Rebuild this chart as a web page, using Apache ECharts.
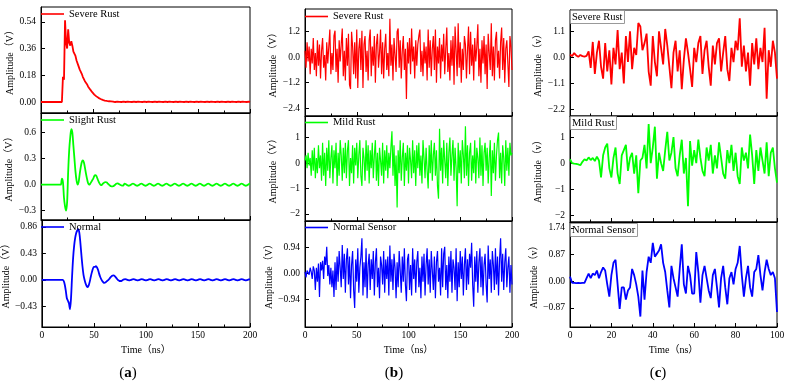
<!DOCTYPE html>
<html>
<head>
<meta charset="utf-8">
<script src="https://cdn.jsdelivr.net/npm/echarts@6/dist/echarts.min.js"></script>
<style>html,body{margin:0;padding:0;background:#fff}#main{width:789px;height:387px}</style>
</head>
<body>
<div id="main"></div>
<script>
// sample step (ns) of each column
var stepA = 1, stepB = 1, stepC = 1;

// (a) pulse responses, t = 0..200 ns
var severeA = [0,0,0,0,0,0,0,0,0,0, 0,0,0,0,0,0,0,0,0,0,
  0,0.17,0.15,0.55,0.40,0.36,0.49,0.40,0.38,0.41,
  0.38,0.34,0.33,0.31,0.28,0.27,0.24,0.22,0.21,0.19,
  0.17,0.16,0.14,0.13,0.12,0.105,0.095,0.085,0.075,0.066,
  0.058,0.05,0.044,0.038,0.033,0.028,0.024,0.02,0.017,0.014,
  0.012,0.01,0.008,0.007,0.006,0.005,0.004,0.004,0.003,0.003,
  0.002,0,0.001,0.002,0,0.001,0.002,0,0.001,0.002,
  0.002,0,0.001,0.002,0,0.001,0.002,0,0.001,0.002,
  0.002,0,0.001,0.002,0,0.001,0.002,0,0.001,0.002,
  0.002,0,0.001,0.002,0,0.001,0.002,0,0.001,0.002,
  0.002,0,0.001,0.002,0,0.001,0.002,0,0.001,0.002,
  0.002,0,0.001,0.002,0,0.001,0.002,0,0.001,0.002,
  0.002,0,0.001,0.002,0,0.001,0.002,0,0.001,0.002,
  0.002,0,0.001,0.002,0,0.001,0.002,0,0.001,0.002,
  0.002,0,0.001,0.002,0,0.001,0.002,0,0.001,0.002,
  0.002,0,0.001,0.002,0,0.001,0.002,0,0.001,0.002,
  0.002,0,0.001,0.002,0,0.001,0.002,0,0.001,0.002,
  0.002,0,0.001,0.002,0,0.001,0.002,0,0.001,0.002,
  0.002,0,0.001,0.002,0,0.001,0.002,0,0.001,0.002,
  0];
var slightA = [0,0,0,0,0,0,0,0,0,0, 0,0,0,0,0,0,0,0,0,0,
  0.07,0.03,-0.15,-0.25,-0.3,-0.2,0.15,0.4,0.55,0.64,
  0.6,0.45,0.3,0.15,0.05,0.0,0.03,0.12,0.2,0.26,
  0.28,0.26,0.2,0.13,0.07,0.02,0.0,0.01,0.03,0.05,
  0.07,0.1,0.11,0.1,0.07,0.04,0.015,0.0,-0.005,0.01,
  0.02,0.028,0.03,0.025,0.012,0.0,-0.01,-0.018,-0.02,-0.018,
  -0.01,0.0,0.01,0.015,0.012,0.005,-0.003,-0.008,-0.01,-0.006,
  0.012,0.008,0,-0.008,-0.012,-0.008,0,0.008, 0.012,0.008,0,-0.008,-0.012,-0.008,0,0.008,
  0.012,0.008,0,-0.008,-0.012,-0.008,0,0.008, 0.012,0.008,0,-0.008,-0.012,-0.008,0,0.008,
  0.012,0.008,0,-0.008,-0.012,-0.008,0,0.008, 0.012,0.008,0,-0.008,-0.012,-0.008,0,0.008,
  0.012,0.008,0,-0.008,-0.012,-0.008,0,0.008, 0.012,0.008,0,-0.008,-0.012,-0.008,0,0.008,
  0.012,0.008,0,-0.008,-0.012,-0.008,0,0.008, 0.012,0.008,0,-0.008,-0.012,-0.008,0,0.008,
  0.012,0.008,0,-0.008,-0.012,-0.008,0,0.008, 0.012,0.008,0,-0.008,-0.012,-0.008,0,0.008,
  0.012,0.008,0,-0.008,-0.012,-0.008,0,0.008, 0.012,0.008,0,-0.008,-0.012,-0.008,0,0.008,
  0.012,0.008,0,-0.008,-0.012,-0.008,0,0.008,
  0.012];
var normalA = [0,0,0,0,0,0,0,0,0,0, 0,0,0,0,0,0,0,0,0,0, 0,
  -0.02,-0.08,-0.18,-0.3,-0.34,-0.38,-0.48,-0.3,0.05,0.35,
  0.55,0.68,0.76,0.8,0.82,0.76,0.6,0.4,0.22,0.08,
  0.0,-0.06,-0.1,-0.12,-0.09,-0.03,0.05,0.12,0.18,0.21,
  0.21,0.22,0.2,0.16,0.1,0.05,0.01,-0.02,-0.04,-0.05,
  -0.045,-0.03,-0.015,0.0,0.02,0.04,0.06,0.068,0.07,0.06,
  0.04,0.02,0.0,-0.012,-0.02,-0.02,-0.012,
  0,0.006,0.01,0.006,0,-0.006,-0.01,-0.006, 0,0.006,0.01,0.006,0,-0.006,-0.01,-0.006,
  0,0.006,0.01,0.006,0,-0.006,-0.01,-0.006, 0,0.006,0.01,0.006,0,-0.006,-0.01,-0.006,
  0,0.006,0.01,0.006,0,-0.006,-0.01,-0.006, 0,0.006,0.01,0.006,0,-0.006,-0.01,-0.006,
  0,0.006,0.01,0.006,0,-0.006,-0.01,-0.006, 0,0.006,0.01,0.006,0,-0.006,-0.01,-0.006,
  0,0.006,0.01,0.006,0,-0.006,-0.01,-0.006, 0,0.006,0.01,0.006,0,-0.006,-0.01,-0.006,
  0,0.006,0.01,0.006,0,-0.006,-0.01,-0.006, 0,0.006,0.01,0.006,0,-0.006,-0.01,-0.006,
  0,0.006,0.01,0.006,0,-0.006,-0.01,-0.006, 0,0.006,0.01,0.006,0,-0.006,-0.01,-0.006,
  0,0.006,0.01,0.006,0,-0.006,-0.01,-0.006,
  0,0.006,0.01];

// (b) t = 0..200 ns
var severeB = [0.3,-0.5,0.7,-0.2,0.5,-0.8,0.4,-0.3,0.9,-0.6,
  0.2,-0.9,0.8,-0.4,0.6,-1.0,0.3,0.9,-0.5,0.1,
  -1.1,0.7,-0.3,0.5,1.3,-0.8,0.2,-0.6,1.0,1.25,
  -0.7,0.4,-1.2,0.8,-0.2,0.6,1.35,-0.9,0.3,-1.1,
  0.9,-0.4,1.1,-1.3,-1.5,1.2,0.5,-0.8,0.7,-1.0,
  1.3,-1.45,0.4,0.9,-0.6,1.25,-1.45,0.6,1.0,-0.7,
  0.3,-1.1,0.8,1.3,-0.9,0.5,-0.4,1.0,-1.2,0.6,
  1.1,-0.5,0.2,1.3,-0.8,0.7,-1.0,0.4,1.1,-0.6,
  0.2,-0.9,1.81,-0.4,0.6,-1.1,0.9,0.1,-0.7,1.2,
  1.35,-0.5,0.8,-1.0,0.3,1.0,-0.6,0.4,-1.97,0.7,
  -0.3,0.9,-0.8,1.35,-0.2,0.5,-1.0,0.8,-0.4,0.6,
  1.0,1.3,-0.7,0.3,-0.9,0.7,-0.3,0.5,-1.1,1.3,
  -0.5,0.8,-0.9,0.4,1.0,-0.6,1.3,-1.2,0.5,-0.3,
  0.9,-1.0,0.6,-0.2,1.1,-0.8,0.4,1.4,-0.7,0.2,
  -1.1,0.8,-0.4,1.0,-1.3,1.45,0.3,-0.9,1.6,-0.5,
  0.7,-1.2,0.4,-0.6,1.0,0.6,-1.0,0.3,1.45,-0.8,
  1.2,-0.4,0.6,-1.1,0.9,-0.2,0.5,1.55,-0.9,0.4,
  -1.2,0.8,-0.3,1.0,-0.8,0.6,-1.5,1.1,0.2,-0.6,
  1.6,-0.9,0.5,-1.1,0.8,1.2,-0.5,0.3,-1.0,0.7,
  1.4,-0.6,0.9,-1.2,0.4,0.8,-0.3,-1.4,1.0,0.5,
  -0.6];
var mildB = [0.1,0.3,-0.2,0.4,-0.1,0.2,-0.5,0.5,-0.3,0.6,
  -0.6,0.2,-0.4,0.7,-0.2,0.3,-0.7,0.8,-0.5,0.4,
  -0.9,0.6,-0.3,0.9,-0.6,0.2,0.7,-0.8,0.5,-0.2,
  0.8,-0.9,0.4,-0.5,0.9,0.3,-0.7,0.6,-0.4,0.8,
  -0.6,0.5,0.9,-0.9,0.2,-0.4,0.7,-0.8,0.6,-0.1,
  0.8,-0.6,0.3,0.9,-0.5,-0.9,0.6,0.2,-0.7,0.9,
  -0.3,0.7,-0.8,0.5,-0.2,0.8,-0.6,0.3,0.9,-0.7,
  0.4,-0.9,0.6,0.1,-0.5,0.8,-0.8,0.5,-0.3,0.7,
  -0.6,0.4,-0.2,0.6,1.25,-0.5,0.7,-0.9,0.3,-1.75,
  0.5,-0.4,0.9,-0.7,0.2,0.8,-0.9,0.4,-0.3,0.7,
  -0.8,0.6,0.1,-0.6,0.9,-0.4,0.5,-0.9,0.7,-0.2,
  0.8,-0.5,0.3,-0.8,0.9,0.2,-0.6,0.6,-0.3,-1.0,
  0.7,-0.4,0.9,-0.7,0.3,0.8,-0.5,0.5,-0.9,-1.4,
  1.35,-0.3,0.6,-0.8,0.9,0.1,-0.6,0.8,-0.9,0.4,
  1.0,-0.5,0.3,0.9,-0.7,0.6,-0.2,-1.7,0.8,-0.4,
  0.5,-0.8,0.9,0.3,-0.6,1.45,-0.5,0.7,-0.9,0.4,
  0.8,-0.7,0.3,-0.4,0.9,-0.8,0.6,0.2,-0.6,1.0,
  -0.5,0.7,-0.9,0.4,0.8,-0.3,0.6,-0.8,0.2,0.9,
  -1.3,0.5,-0.4,0.8,-0.7,0.3,0.9,1.2,-0.6,0.4,
  -0.8,0.7,0.2,-0.9,0.9,-0.3,0.6,-0.5,0.8,0.3,
  0.4];
var normalB = [0.05,-0.15,0.1,0.15,-0.05,0.2,0.05,-0.2,0.25,0.1,
  -0.6,0.2,-0.3,0.35,-0.85,0.4,0.1,0.45,-0.2,0.6,
  0.3,0.95,-0.1,0.3,-0.4,0.2,-0.5,0.1,-0.85,0.4,
  -0.6,0.6,-0.3,0.8,0.2,-0.5,1.02,-0.2,0.7,-0.7,
  0.5,0.9,-0.4,0.6,-0.9,0.3,0.8,-0.6,-1.25,0.5,
  -0.3,0.9,-0.7,0.2,0.6,1.26,-0.8,0.4,-0.5,0.9,
  -0.9,0.3,0.7,-0.6,0.5,-0.2,0.8,-0.8,0.4,0.9,
  -0.5,0.2,-0.9,0.6,0.3,-0.4,0.8,-0.7,0.5,-0.2,
  0.6,-0.8,1.0,-0.3,0.5,-0.6,0.7,0.2,-0.9,0.4,
  -0.5,0.8,0.1,-0.7,0.6,-0.3,0.9,-0.4,-1.0,0.5,
  0.7,-0.6,0.3,-0.8,0.9,-0.2,0.5,-0.7,0.4,0.8,
  -0.5,0.2,-0.9,0.6,-0.3,0.7,-0.8,0.3,0.9,-0.4,
  0.5,-0.7,0.8,0.1,-0.6,0.6,-0.9,0.4,0.8,-0.3,
  0.2,-0.8,0.9,-0.5,0.7,0.95,-0.6,0.3,-0.9,0.6,
  -0.3,0.8,-0.7,0.5,0.2,-0.6,0.9,-1.0,0.4,-0.5,
  0.8,-0.2,0.6,-0.8,0.3,0.9,-0.6,0.5,-0.4,0.7,
  0.2,1.1,-0.4,-1.2,0.6,-0.3,0.8,-0.7,0.4,0.9,
  -0.5,0.6,-0.8,0.3,0.7,-0.4,-1.05,1.0,-0.2,0.5,
  -0.7,0.8,0.3,-0.6,0.9,-0.4,0.6,-0.8,0.5,1.26,
  -0.3,0.7,-0.6,0.4,0.9,-0.5,0.2,0.6,-0.7,0.3,
  -0.4];

// (c) t = 0..100 ns
var severeC = [0.12,0.05,0.18,0.08,0.02,0.1,0.05,0.03,0.06,0.25,
  -0.45,0.65,-0.7,0.2,0.7,-0.4,-0.9,0.6,-0.6,0.3,
  -1.15,0.4,-0.3,1.15,-0.5,0.2,-1.1,0.9,-0.2,1.1,
  -0.5,0.4,0.1,1.45,1.3,0.3,0.6,1.0,-0.6,-1.2,
  0.9,-0.2,-0.8,1.1,0.4,-0.3,1.2,0.5,-0.4,-1.3,
  0.2,0.7,-0.6,0.3,-1.35,-0.1,0.8,0.2,-0.5,-1.25,
  0.4,-0.2,0.6,0.9,-0.7,0.3,0.7,-0.4,-1.2,0.5,
  -0.3,0.6,0.8,-0.6,0.2,0.9,-0.5,-1.0,0.4,-0.2,
  0.7,0.3,1.65,-0.4,0.5,-0.6,0.2,-1.2,0.6,-0.3,
  0.8,-0.5,0.4,-0.2,1.25,-1.75,0.3,-0.4,0.7,0.2,
  -0.9];
var mildC = [0.15,0.0,-0.02,-0.03,-0.05,-0.08,0.05,0.15,0.1,0.22,
  0.12,0.2,0.08,0.25,0.1,-0.55,0.3,0.6,0.75,-0.2,
  -0.55,0.2,0.6,-0.4,-0.8,0.3,0.5,0.7,-0.3,0.2,
  0.4,-0.4,0.3,-1.15,0.1,0.2,0.7,-0.2,1.5,0.0,
  0.6,1.4,-0.6,0.4,0.0,-0.3,0.5,1.2,0.1,0.4,
  1.0,-0.2,-0.5,0.3,0.9,-0.4,0.2,-1.65,0.85,-0.1,
  0.5,0.0,0.9,0.2,-0.3,-0.5,0.6,0.1,0.7,-0.4,
  0.3,-0.2,0.8,0.2,-0.4,-0.6,0.5,0.0,0.7,-0.3,
  0.4,-0.5,-0.8,0.6,0.1,0.4,-0.2,1.1,0.3,-0.8,
  0.5,-0.3,0.6,0.1,-0.4,0.8,-0.5,0.4,0.6,-0.2,
  -0.75];
var normalC = [0.15,-0.05,-0.05,-0.06,-0.05,-0.06,-0.05,-0.05,0.1,0.25,
  0.1,0.25,0.2,0.35,0.1,0.3,0.45,0.35,-0.1,-0.5,
  0.2,0.6,0.7,-0.1,-0.9,-0.2,-0.2,-0.6,-0.3,-0.2,
  0.4,0.2,-0.1,-0.5,-1.15,0.35,-0.6,0.3,0.8,0.6,
  1.25,0.8,0.9,1.0,1.2,0.6,0.3,-0.3,-0.85,0.5,
  0.1,-0.2,-0.5,0.4,1.2,-0.1,-0.4,0.5,0.2,-0.4,
  -0.4,0.95,0.3,-0.7,0.2,0.5,0.1,-0.3,-0.55,0.2,
  0.4,-0.2,-0.85,0.1,0.5,-0.2,-0.75,0.1,0.3,-0.1,
  0.4,0.6,1.15,0.2,-0.5,0.1,0.5,-0.2,-0.5,0.3,
  0.4,0.85,0.2,-0.3,0.3,0.7,0.4,0.2,0.3,0.1,
  -1.0];

// tick labels of each panel's y axis
var ticksA1 = [0, 0.18, 0.36, 0.54];
var ticksA2 = [-0.3, 0, 0.3, 0.6];
var ticksA3 = [-0.43, 0, 0.43, 0.86];
var ticksB1 = [-2.4, -1.2, 0, 1.2];
var ticksB2 = [-2, -1, 0, 1];
var ticksB3 = [-0.94, 0, 0.94];
var ticksC1 = [-2.2, -1.1, 0, 1.1];
var ticksC2 = [-2, -1, 0, 1];
var ticksC3 = [-0.87, 0, 0.87, 1.74];

var serif = '"Times New Roman", "Liberation Serif", "Noto Sans CJK SC", serif';
var RED = '#ff0000', GREEN = '#00ff00', BLUE = '#0000ff';

var panels = [
  {name:'Severe Rust', vals:severeA, step:stepA, color:RED, lw:1.8, smooth:false, x:41, y:7, w:209, h:106, min:-0.074, max:0.64, ticks:ticksA1, dig:2, xMax:200, xInt:50, bottom:false, lab:'line', ly:14, yName:'Amplitude（V）', gap:26},
  {name:'Slight Rust', vals:slightA, step:stepA, color:GREEN, lw:1.8, smooth:0.3, x:41, y:113, w:209, h:107, min:-0.407, max:0.827, ticks:ticksA2, dig:1, xMax:200, xInt:50, bottom:false, lab:'line', ly:120, yName:'Amplitude（V）', gap:26},
  {name:'Normal', vals:normalA, step:stepA, color:BLUE, lw:1.8, smooth:0.3, x:41, y:220, w:209, h:107, min:-0.766, max:0.97, ticks:ticksA3, dig:2, xMax:200, xInt:50, bottom:true, lab:'line', ly:227, yName:'Amplitude（V）', gap:26},
  {name:'Severe Rust', vals:severeB, step:stepB, color:RED, lw:1.2, smooth:false, x:305, y:9, w:207, h:107, min:-2.77, max:2.27, ticks:ticksB1, dig:1, xMax:200, xInt:50, bottom:false, lab:'line', ly:16.5, yName:'Amplitude（V）', gap:27},
  {name:'Mild Rust', vals:mildB, step:stepB, color:GREEN, lw:1.2, smooth:false, x:305, y:116, w:207, h:105, min:-2.28, max:1.85, ticks:ticksB2, dig:0, xMax:200, xInt:50, bottom:false, lab:'line', ly:122.5, yName:'Amplitude（V）', gap:27},
  {name:'Normal Sensor', vals:normalB, step:stepB, color:BLUE, lw:1.2, smooth:false, x:305, y:221, w:207, h:106, min:-1.93, max:1.88, ticks:ticksB3, dig:2, xMax:200, xInt:50, bottom:true, lab:'line', ly:227.5, yName:'Amplitude（V）', gap:27},
  {name:'Severe Rust', vals:severeC, step:stepC, color:RED, lw:1.8, smooth:false, x:570, y:10, w:207, h:106, min:-2.48, max:2.0, ticks:ticksC1, dig:1, xMax:100, xInt:20, bottom:false, lab:'box', ly:10, yName:'Amplitude（v）', gap:27},
  {name:'Mild Rust', vals:mildC, step:stepC, color:GREEN, lw:1.8, smooth:false, x:570, y:116, w:207, h:106, min:-2.26, max:1.81, ticks:ticksC2, dig:0, xMax:100, xInt:20, bottom:false, lab:'box', ly:116, yName:'Amplitude（v）', gap:27},
  {name:'Normal Sensor', vals:normalC, step:stepC, color:BLUE, lw:1.8, smooth:false, x:570, y:222, w:207, h:105, min:-1.49, max:1.93, ticks:ticksC3, dig:2, xMax:100, xInt:20, bottom:true, lab:'box', ly:223, yName:'Amplitude（v）', gap:27}
];

function fmt(d) {
  return function (v) {
    var s = Math.abs(v).toFixed(d);
    return (v < -1e-9 ? '\u2212' : '') + s;
  };
}

var grids = [], xAxes = [], yAxes = [], series = [], legends = [], titles = [];
panels.forEach(function (p, i) {
  grids.push({left:p.x, top:p.y, width:p.w, height:p.h, show:true, borderColor:'#000', borderWidth:1, backgroundColor:'transparent'});
  xAxes.push({
    type:'value', gridIndex:i, min:0, max:p.xMax, interval:p.xInt,
    axisLine:{onZero:false, lineStyle:{color:'#000', width:1}},
    axisTick:{inside:true, length:4, lineStyle:{color:'#000'}},
    minorTick:{show:true, splitNumber:2, length:2.5, lineStyle:{color:'#000'}},
    splitLine:{show:false},
    axisLabel:{show:p.bottom, color:'#000', fontFamily:serif, fontSize:9.5, margin:4},
    name:p.bottom ? 'Time（ns）' : '', nameLocation:'middle', nameGap:18,
    nameTextStyle:{color:'#000', fontFamily:serif, fontSize:10}
  });
  yAxes.push({
    type:'value', gridIndex:i, min:p.min, max:p.max,
    axisLine:{show:true, onZero:false, lineStyle:{color:'#000', width:1}},
    axisTick:{show:true, inside:true, length:4, customValues:p.ticks, lineStyle:{color:'#000'}},
    axisLabel:{customValues:p.ticks, formatter:fmt(p.dig), color:'#000', fontFamily:serif, fontSize:9.5, margin:5},
    splitLine:{show:false},
    name:p.yName, nameLocation:'middle', nameGap:p.gap,
    nameTextStyle:{color:'#000', fontFamily:serif, fontSize:10}
  });
  series.push({
    name:p.name, type:'line', xAxisIndex:i, yAxisIndex:i,
    data:p.vals.map(function (v, k) { return [k * p.step, v]; }),
    showSymbol:false, smooth:p.smooth, color:p.color,
    itemStyle:{color:p.color},
    lineStyle:{color:p.color, width:p.lw}
  });
  if (p.lab === 'line') {
    legends.push({
      data:[p.name], left:p.x, top:p.ly - 6.5, padding:0, icon:'rect',
      itemWidth:23, itemHeight:1.6, selectedMode:false,
      textStyle:{color:'#000', fontFamily:serif, fontSize:10.5, lineHeight:13}
    });
  } else {
    titles.push({
      text:p.name, left:p.x, top:p.ly, padding:[1, 2, 1, 2],
      borderColor:'#999', borderWidth:1,
      textStyle:{color:'#000', fontFamily:serif, fontSize:10.5, fontWeight:'normal', lineHeight:12}
    });
  }
});

var letters = [['a', 128], ['b', 394], ['c', 658]];
var graphics = letters.map(function (l) {
  return {
    type:'text', x:l[1], y:373,
    style:{
      text:'({b|' + l[0] + '})', fill:'#000', fontFamily:serif, fontSize:15,
      align:'center', verticalAlign:'middle', textAlign:'center', textVerticalAlign:'middle',
      rich:{b:{fontWeight:'bold', fontFamily:serif, fontSize:15}}
    }
  };
});

var chart = echarts.init(document.getElementById('main'));
chart.setOption({
  animation:false,
  backgroundColor:'#fff',
  title:titles,
  legend:legends,
  grid:grids,
  xAxis:xAxes,
  yAxis:yAxes,
  series:series,
  graphic:graphics
});
</script>
</body>
</html>
